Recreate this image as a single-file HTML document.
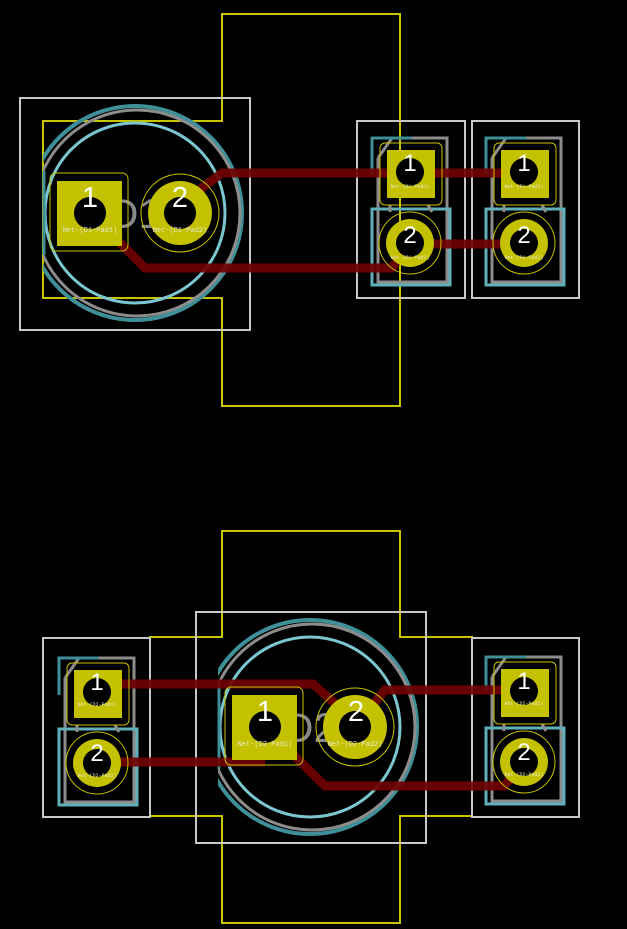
<!DOCTYPE html>
<html><head><meta charset="utf-8"><style>
html,body{margin:0;padding:0;background:#000;width:627px;height:929px;overflow:hidden}
svg{display:block}
.num{font-family:"Liberation Sans",sans-serif;fill:#fff;text-anchor:middle}
.net{font-family:"Liberation Mono",monospace;fill:#e8e8c8;text-anchor:middle;font-size:7px}
</style></head><body>
<svg width="627" height="929" viewBox="0 0 627 929" xmlns="http://www.w3.org/2000/svg">
<defs>
<clipPath id="ledclip"><rect x="-47" y="-130" width="300" height="260"/></clipPath>
<g id="ledbody">
  <g clip-path="url(#ledclip)" fill="none">
    <circle cx="45" cy="0" r="107" stroke="#3f8f98" stroke-width="4"/>
    <circle cx="47" cy="0" r="103" stroke="#8c8c8c" stroke-width="3"/>
  </g>
  <circle cx="45" cy="0" r="90" fill="none" stroke="#7cc6cf" stroke-width="3"/>
  <line x1="-46" y1="-42" x2="-46" y2="42" stroke="#3f8f98" stroke-width="3"/>
</g>
<g id="ledpads">
  <rect x="-40" y="-40" width="78" height="78" rx="6" fill="none" stroke="#c8c400" stroke-width="1"/>
  <rect x="-33" y="-32" width="65" height="65" fill="#c3c100"/>
  <circle cx="0" cy="0" r="16" fill="#000"/>
  <circle cx="90" cy="0" r="39" fill="none" stroke="#c8c400" stroke-width="1"/>
  <circle cx="90" cy="0" r="32" fill="#c3c100"/>
  <circle cx="90" cy="0" r="16" fill="#000"/>
</g>
<g id="connbody">
  <polyline points="-32,-14 -18,-34 37,-34 37,110 -32,110 -32,-14" fill="none" stroke="#8c8c8c" stroke-width="3"/>
  <polyline points="-38,3 -38,-34 2,-34" fill="none" stroke="#3f8f98" stroke-width="3"/>
  <rect x="-38" y="37" width="78" height="76" fill="none" stroke="#5fb0ba" stroke-width="3"/>
  <line x1="-20" y1="33" x2="-20" y2="40" stroke="#8c8c8c" stroke-width="3"/>
  <line x1="18" y1="33" x2="22" y2="40" stroke="#8c8c8c" stroke-width="3"/>
</g>
<g id="connpads">
  <rect x="-30" y="-29" width="62" height="62" rx="5" fill="none" stroke="#c8c400" stroke-width="1"/>
  <rect x="-23" y="-22" width="48" height="48" fill="#c3c100"/>
  <circle cx="0" cy="0" r="14" fill="#000"/>
  <circle cx="0" cy="71" r="31" fill="none" stroke="#c8c400" stroke-width="1"/>
  <circle cx="0" cy="71" r="24" fill="#c3c100"/>
  <circle cx="0" cy="71" r="14" fill="#000"/>
</g>
</defs>

<polygon points="222,14 400,14 400,406 222,406 222,298 43,298 43,121 222,121" fill="none" stroke="#c8c400" stroke-width="2"/>
<polygon points="222,531 400,531 400,637 472,637 472,816 400,816 400,923 222,923 222,816 150,816 150,637 222,637" fill="none" stroke="#c8c400" stroke-width="2"/>
<g fill="none" stroke="#c8c8c8" stroke-width="2">
<rect x="20" y="98" width="230" height="232"/>
<rect x="357" y="121" width="108" height="177"/>
<rect x="472" y="121" width="107" height="177"/>
<rect x="196" y="612" width="230" height="231"/>
<rect x="43" y="638" width="107" height="179"/>
<rect x="472" y="638" width="107" height="179"/>
</g>

<use href="#ledbody" x="90" y="213"/>
<text x="135" y="228" font-family="Liberation Sans,sans-serif" font-size="42" fill="#8a8a8a" text-anchor="middle">D1</text>
<use href="#connbody" x="410" y="172"/>
<use href="#connbody" x="524" y="172"/>
<use href="#ledbody" x="265" y="727"/>
<text x="310" y="742" font-family="Liberation Sans,sans-serif" font-size="42" fill="#8a8a8a" text-anchor="middle">D2</text>
<use href="#connbody" x="97" y="692"/>
<use href="#connbody" x="524" y="691"/>

<g fill="none" stroke="#700000" stroke-opacity="0.92" stroke-width="9" stroke-linejoin="miter">
<polyline points="180,213 202,188 222,173 524,173"/>
<polyline points="90,213 145,268 392,268 410,243"/>
<polyline points="410,244 524,244"/>
<polyline points="97,684 313,684 340,708 355,727"/>
<polyline points="355,727 385,690 524,690"/>
<polyline points="97,762 265,762"/>
<polyline points="265,727 325,786 504,786 524,763"/>
</g>

<use href="#ledpads" x="90" y="213"/>
<use href="#connpads" x="410" y="172"/>
<use href="#connpads" x="524" y="172"/>
<use href="#ledpads" x="265" y="727"/>
<use href="#connpads" x="97" y="692"/>
<use href="#connpads" x="524" y="691"/>

<g class="num" font-size="29">
<text x="90" y="207">1</text><text x="180" y="207">2</text>
<text x="265" y="721">1</text><text x="356" y="721">2</text>
</g>
<g class="num" font-size="24">
<text x="410" y="171">1</text><text x="410" y="243">2</text>
<text x="524" y="171">1</text><text x="524" y="243">2</text>
<text x="97" y="690">1</text><text x="97" y="761">2</text>
<text x="524" y="689">1</text><text x="524" y="760">2</text>
</g>
<g class="net">
<text x="90" y="232">Net-(D1-Pad1)</text>
<text x="180" y="232">Net-(D1-Pad2)</text>
<text x="265" y="746">Net-(D2-Pad1)</text>
<text x="355" y="746">Net-(D2-Pad2)</text>
</g>
<g class="net" style="font-size:5px">
<text x="410" y="188">Net-(D1-Pad1)</text>
<text x="410" y="259">Net-(D1-Pad2)</text>
<text x="524" y="188">Net-(D1-Pad1)</text>
<text x="524" y="259">Net-(D1-Pad2)</text>
<text x="97" y="706">Net-(D2-Pad1)</text>
<text x="97" y="777">Net-(D2-Pad2)</text>
<text x="524" y="705">Net-(D2-Pad2)</text>
<text x="524" y="776">Net-(D2-Pad1)</text>
</g>
</svg>
</body></html>
